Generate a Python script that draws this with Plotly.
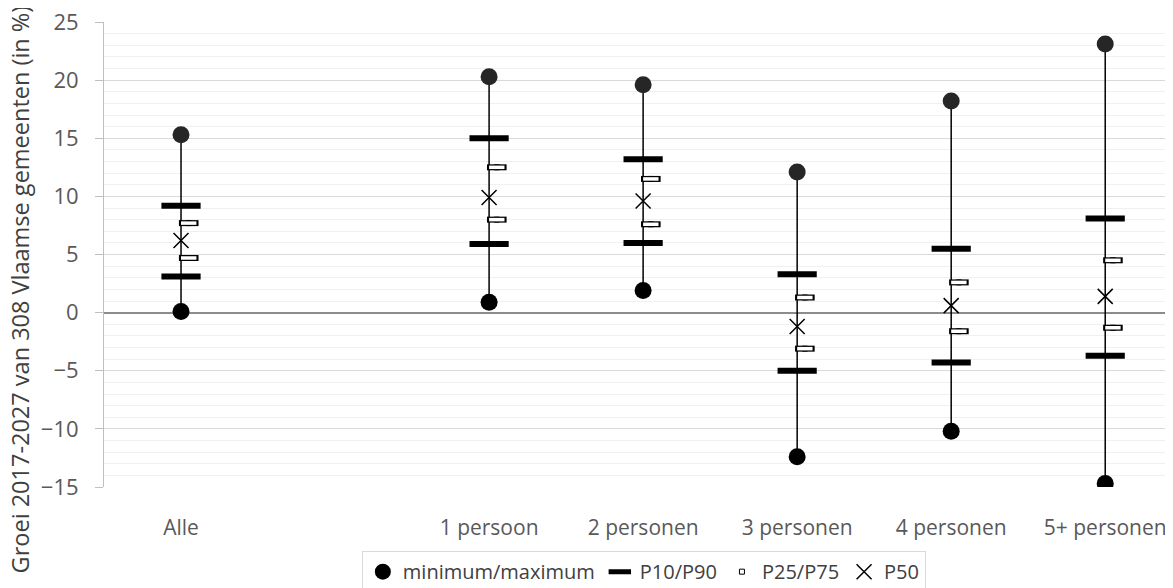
import plotly.graph_objects as go

categories = ["Alle", "", "1 persoon", "2 personen", "3 personen", "4 personen", "5+ personen"]
maximum = [15.3, None, 20.3, 19.6, 12.1, 18.2, 23.1]
p90 = [9.2, None, 15.0, 13.2, 3.3, 5.5, 8.1]
p75 = [7.7, None, 12.5, 11.5, 1.3, 2.6, 4.5]
p50 = [6.2, None, 9.9, 9.6, -1.2, 0.6, 1.4]
p25 = [4.7, None, 8.0, 7.6, -3.1, -1.6, -1.3]
p10 = [3.1, None, 5.9, 6.0, -5.0, -4.3, -3.7]
minimum = [0.1, None, 0.9, 1.9, -12.4, -10.2, -14.7]

xs = list(range(len(categories)))
box_offset = 0.05

fig = go.Figure()

# high-low lines
lx, ly = [], []
for i, (lo, hi) in enumerate(zip(minimum, maximum)):
    if lo is None:
        continue
    lx += [i, i, None]
    ly += [lo, hi, None]
fig.add_trace(go.Scatter(x=lx, y=ly, mode="lines", line=dict(color="black", width=1.5),
                         showlegend=False, hoverinfo="skip"))

fig.add_trace(go.Scatter(x=xs, y=minimum, mode="markers", name="minimum/maximum",
                         legendgroup="mm",
                         marker=dict(symbol="circle", size=17, color="black")))
fig.add_trace(go.Scatter(x=xs, y=maximum, mode="markers", name="minimum/maximum",
                         legendgroup="mm", showlegend=False,
                         marker=dict(symbol="circle", size=17, color="#262626")))

fig.add_trace(go.Scatter(x=xs + xs, y=p10 + p90, mode="markers", name="P10/P90",
                         marker=dict(symbol="line-ew", size=28,
                                     line=dict(color="black", width=6))))

bx = [x + box_offset for x in xs]
# legend entry (small outlined box), hidden under the rectangle marks
fig.add_trace(go.Scatter(x=bx + bx, y=p25 + p75, mode="markers", name="P25/P75",
                         legendgroup="box",
                         marker=dict(symbol="square", size=5, color="white",
                                     line=dict(color="black", width=1))))
fig.add_trace(go.Scatter(x=bx + bx, y=p25 + p75, mode="markers", name="P25/P75",
                         legendgroup="box", showlegend=False,
                         marker=dict(symbol="line-ew", size=14,
                                     line=dict(color="black", width=6))))
fig.add_trace(go.Scatter(x=bx + bx, y=p25 + p75, mode="markers", name="P25/P75",
                         legendgroup="box", showlegend=False,
                         marker=dict(symbol="line-ew", size=11,
                                     line=dict(color="white", width=3.5))))

fig.add_trace(go.Scatter(x=xs, y=p50, mode="markers", name="P50",
                         marker=dict(symbol="x-thin", size=15,
                                     line=dict(color="black", width=1.5))))

font = "Open Sans, Noto Sans, sans-serif"
fig.update_layout(
    width=1165, height=580,
    margin=dict(l=96, r=0, t=14, b=101, autoexpand=False),
    paper_bgcolor="white", plot_bgcolor="white",
    font=dict(family=font, size=21, color="#595959"),
    showlegend=True,
    legend=dict(orientation="h", x=0.505, xanchor="center", y=-0.138, yanchor="top",
                bordercolor="#d9d9d9", borderwidth=1, font=dict(size=20, color="#404040"),
                itemwidth=30, tracegroupgap=0, traceorder="normal"),
    annotations=[dict(text="Groei 2017-2027 van 308 Vlaamse gemeenten (in %)",
                      xref="paper", yref="paper", x=-0.079, y=0.424, textangle=-90,
                      showarrow=False, font=dict(size=23.5, color="#404040"),
                      xanchor="center", yanchor="middle")],
)
fig.update_xaxes(range=[-0.5, 6.44], tickmode="array", tickvals=xs, ticktext=categories,
                 showgrid=False, zeroline=False, showline=False, ticks="",
                 automargin=False,
                 ticklabelstandoff=26, tickfont=dict(size=21, color="#595959"))
fig.update_yaxes(range=[-15, 25], tickmode="linear", tick0=-15, dtick=5,
                 automargin=False, ticklabeloverflow="allow",
                 showgrid=True, gridcolor="#d9d9d9", gridwidth=1,
                 minor=dict(dtick=1, showgrid=True, gridcolor="#f0f0f0", gridwidth=1),
                 zeroline=True, zerolinecolor="#8c8c8c", zerolinewidth=1.5,
                 showline=True, linecolor="#bfbfbf", linewidth=1,
                 ticks="outside", ticklen=8, tickcolor="#bfbfbf",
                 ticklabelstandoff=12, tickfont=dict(size=22, color="#595959"))

fig.write_html("out.html")
